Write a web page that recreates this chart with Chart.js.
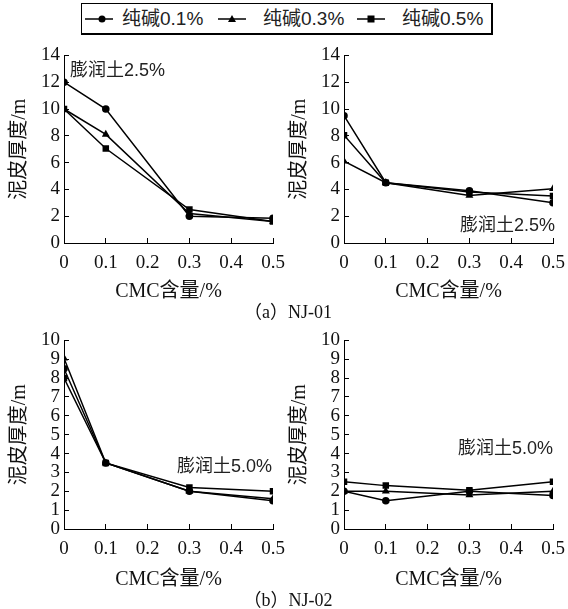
<!DOCTYPE html>
<html>
<head>
<meta charset="utf-8">
<script src="https://cdn.jsdelivr.net/npm/chart.js@4/dist/chart.umd.min.js"></script>
<style>
  body { margin: 0; background: #fff; }
  #wrap { position: relative; width: 568px; height: 609px; overflow: hidden; }
  canvas { position: absolute; }
  .legend { position: absolute; left: 81px; top: 3px; width: 409px; height: 29px;
            border: 1px solid #000; border-right-width: 2px; border-bottom-width: 2px; }
  .lg-item { position: absolute; top: 0; height: 29px; display: flex; align-items: center; }
  .lg-text { position: absolute; top: 0; line-height: 29px; font-size: 19px; color: #222;
             font-family: 'Liberation Sans', 'Noto Sans CJK SC', sans-serif; white-space: nowrap; }
  .note { position: absolute; font-size: 18px; color: #222; white-space: nowrap; line-height: 20px;
          font-family: 'Liberation Sans', 'Noto Sans CJK SC', sans-serif; }
  .cap { position: absolute; font-size: 18px; color: #111; white-space: nowrap; line-height: 20px;
         font-family: 'Liberation Serif', 'Noto Sans CJK SC', serif; transform: translateX(-50%); }
</style>
</head>
<body>
<div id="wrap">
  <div class="legend">
    <svg class="lg-item" style="left:3px" width="30" height="29"><line x1="0" y1="15" x2="28" y2="15" stroke="#000" stroke-width="1.5"/><circle cx="17" cy="15" r="3.5" fill="#000"/></svg>
    <div class="lg-text" style="left:40px">纯碱0.1%</div>
    <svg class="lg-item" style="left:136px" width="30" height="29"><line x1="0" y1="15" x2="28" y2="15" stroke="#000" stroke-width="1.5"/><polygon points="14,11 18,18 10,18" fill="#000"/></svg>
    <div class="lg-text" style="left:181px">纯碱0.3%</div>
    <svg class="lg-item" style="left:275px" width="30" height="29"><line x1="0" y1="15" x2="28" y2="15" stroke="#000" stroke-width="1.5"/><rect x="10.5" y="11.5" width="7" height="7" fill="#000"/></svg>
    <div class="lg-text" style="left:320px">纯碱0.5%</div>
  </div>

  <canvas id="c1" width="288" height="269" style="left:0;top:35px"></canvas>
  <canvas id="c2" width="288" height="269" style="left:280px;top:35px"></canvas>
  <canvas id="c3" width="288" height="272" style="left:0;top:320px"></canvas>
  <canvas id="c4" width="288" height="272" style="left:280px;top:320px"></canvas>

  <div class="note" style="left:70px;top:60px">膨润土2.5%</div>
  <div class="note" style="left:460px;top:215px">膨润土2.5%</div>
  <div class="note" style="left:177px;top:456px">膨润土5.0%</div>
  <div class="note" style="left:458px;top:438px">膨润土5.0%</div>

  <div class="cap" style="left:288px;top:302px">（a）NJ-01</div>
  <div class="cap" style="left:288px;top:590px">（b）NJ-02</div>
</div>

<script>
// CMC content (%) on the x axis
const cmcValues = [0, 0.1, 0.3, 0.5]
const xTickLabels = ['0', '0.1', '0.2', '0.3', '0.4', '0.5']
const yTicksTop = ['0', '2', '4', '6', '8', '10', '12', '14']
const yTicksBottom = ['0', '1', '2', '3', '4', '5', '6', '7', '8', '9', '10']

const seriesNames = ['纯碱0.1%', '纯碱0.3%', '纯碱0.5%']

// NJ-01, left panel
const nj01aSoda01 = [12, 10, 2.0, 1.85]
const nj01aSoda03 = [10, 8.1, 2.2, 1.6]
const nj01aSoda05 = [10, 7.05, 2.5, 1.6]

// NJ-01, right panel
const nj01bSoda01 = [9.5, 4.5, 3.9, 3.0]
const nj01bSoda03 = [6.1, 4.5, 3.55, 4.05]
const nj01bSoda05 = [8.05, 4.5, 3.8, 3.5]

// NJ-02, left panel
const nj02aSoda01 = [8.5, 3.5, 2.0, 1.5]
const nj02aSoda03 = [9.05, 3.5, 2.0, 1.6]
const nj02aSoda05 = [8.0, 3.5, 2.2, 2.0]

// NJ-02, right panel
const nj02bSoda01 = [2.0, 1.5, 2.0, 1.78]
const nj02bSoda03 = [2.0, 2.0, 1.8, 2.0]
const nj02bSoda05 = [2.5, 2.3, 2.05, 2.5]

const serifFont = "'Liberation Serif', 'Noto Sans CJK SC', serif"
const pointStyles = ['circle', 'triangle', 'rect']
const pointSizes = [3.8, 4.6, 4.6]

function makePanel(id, series, yMax, yStep, yLabels, padTop, xHeight) {
  const datasets = series.map((vals, i) => ({
    label: seriesNames[i],
    data: cmcValues.map((x, j) => ({ x: x, y: vals[j] })),
    borderColor: '#000',
    backgroundColor: '#000',
    borderWidth: 1.5,
    pointStyle: pointStyles[i],
    pointRadius: pointSizes[i],
    pointBorderWidth: 0,
    tension: 0
  }))

  return new Chart(document.getElementById(id), {
    type: 'line',
    data: { datasets: datasets },
    options: {
      responsive: false,
      animation: false,
      layout: { padding: { top: padTop, right: 15, left: 0, bottom: 0 } },
      plugins: { legend: { display: false }, tooltip: { enabled: false } },
      scales: {
        x: {
          type: 'linear',
          min: 0,
          max: 0.5,
          afterFit: (s) => { s.height = xHeight },
          border: { color: '#000', width: 1 },
          grid: { drawOnChartArea: false, color: '#000', tickLength: -5 },
          ticks: {
            stepSize: 0.1,
            padding: 3,
            autoSkip: false,
            color: '#111',
            font: { family: serifFont, size: 19, lineHeight: 2.3 },
            maxRotation: 0,
            callback: (v, i) => xTickLabels[i]
          },
          title: {
            display: true,
            text: 'CMC含量/%',
            color: '#111',
            font: { family: serifFont, size: 20 },
            padding: { top: 0, bottom: 0 }
          }
        },
        y: {
          min: 0,
          max: yMax,
          afterFit: (s) => { s.width = 64 },
          border: { color: '#000', width: 1 },
          grid: { drawOnChartArea: false, color: '#000', tickLength: -5 },
          ticks: {
            stepSize: yStep,
            padding: 9,
            autoSkip: false,
            color: '#111',
            font: { family: serifFont, size: 19 },
            callback: (v, i) => yLabels[i]
          },
          title: {
            display: true,
            text: '泥皮厚度/m',
            color: '#111',
            font: { family: serifFont, size: 20 },
            padding: { top: 8, bottom: 0 }
          }
        }
      }
    }
  })
}

makePanel('c1', [nj01aSoda01, nj01aSoda03, nj01aSoda05], 14, 2, yTicksTop, 20, 61)
makePanel('c2', [nj01bSoda01, nj01bSoda03, nj01bSoda05], 14, 2, yTicksTop, 20, 61)
makePanel('c3', [nj02aSoda01, nj02aSoda03, nj02aSoda05], 10, 1, yTicksBottom, 20, 63)
makePanel('c4', [nj02bSoda01, nj02bSoda03, nj02bSoda05], 10, 1, yTicksBottom, 20, 63)
</script>
</body>
</html>
